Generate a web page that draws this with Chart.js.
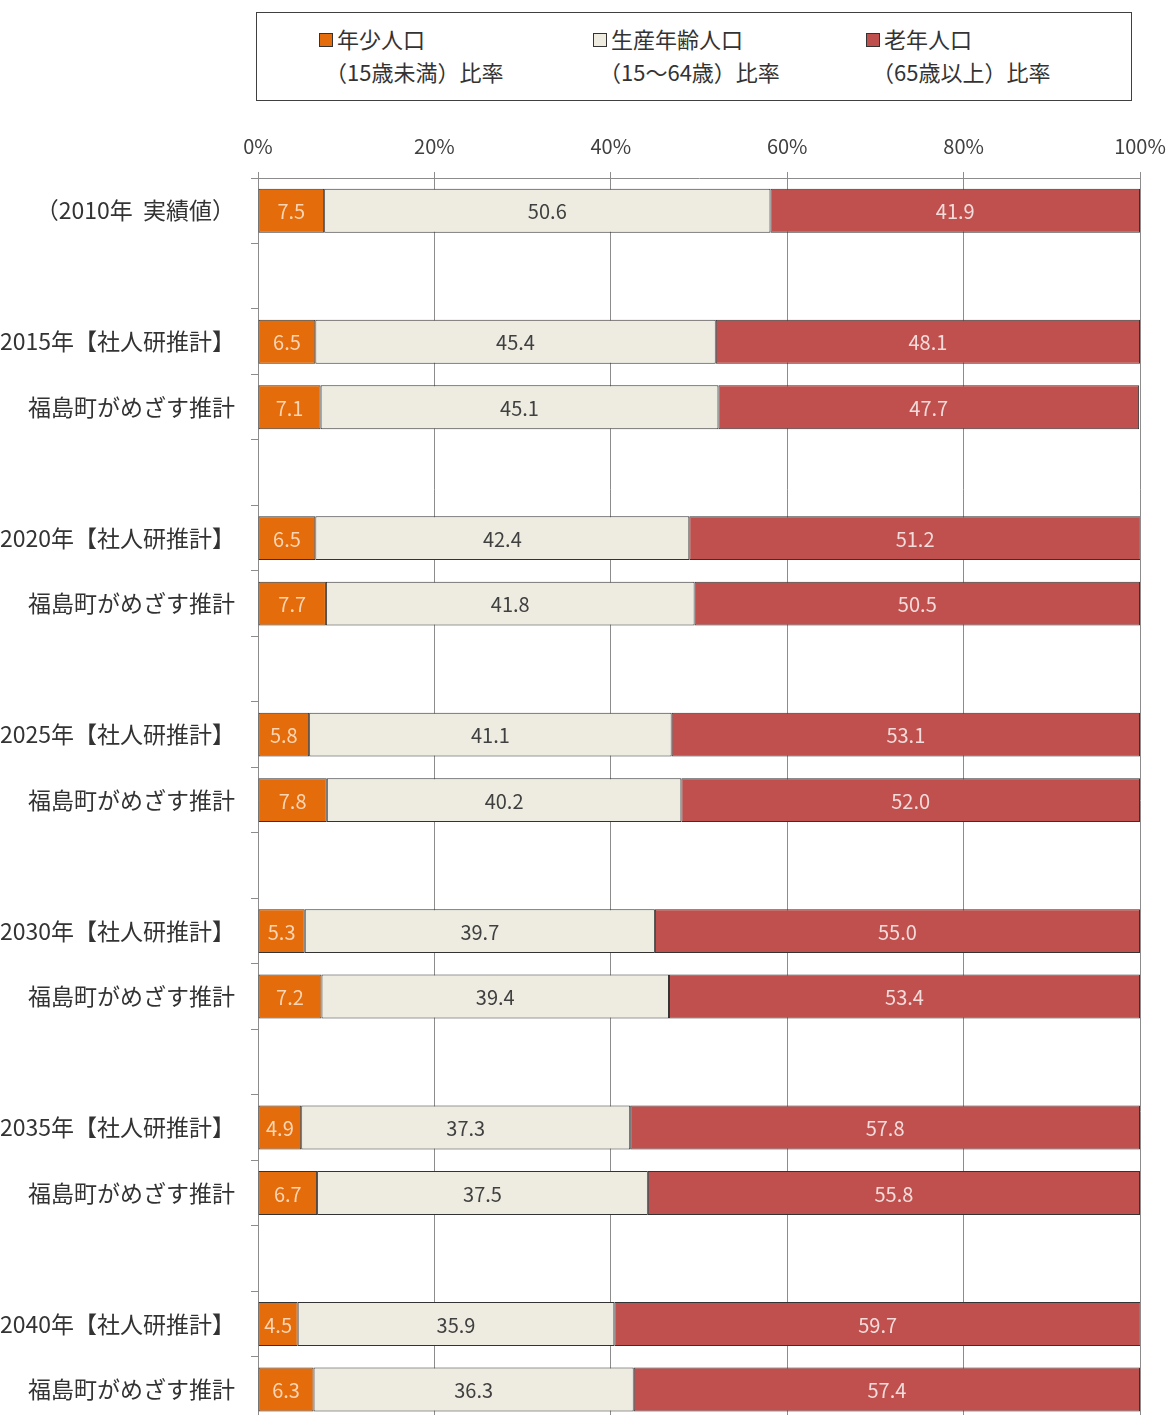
<!DOCTYPE html>
<html lang="ja">
<head>
    <meta charset="UTF-8">
    <title>年齢3区分別人口比率</title>
    <script src="https://cdn.jsdelivr.net/npm/chart.js@4.4.1/dist/chart.umd.min.js"></script>
    <style>
        body {
            margin: 0;
            width: 1170px;
            height: 1415px;
            overflow: hidden;
            background: #fff;
            font-family: 'Noto Sans CJK JP', 'Noto Sans', sans-serif;
            color: #333;
        }
        .legend {
            position: absolute;
            left: 256px;
            top: 12px;
            width: 874px;
            height: 87px;
            border: 1.5px solid #404040;
        }
        .legend .item {
            position: absolute;
            top: 9px;
            font-size: 22px;
            line-height: 33px;
            white-space: nowrap;
        }
        .legend .box {
            display: inline-block;
            width: 12px;
            height: 12px;
            border: 1px solid #333;
            margin-right: 4px;
            vertical-align: 1px;
        }
        .legend .sub {
            padding-left: 6px;
        }
        #wrap {
            position: absolute;
            left: 0;
            top: 110px;
            width: 1170px;
            height: 1342px;
        }
    </style>
</head>
<body>
<div class="legend" id="legend"></div>
<div id="wrap"><canvas id="chart"></canvas></div>

<script>
    const categories = [
        '（2010年  実績値）', '',
        '2015年【社人研推計】', '福島町がめざす推計', '',
        '2020年【社人研推計】', '福島町がめざす推計', '',
        '2025年【社人研推計】', '福島町がめざす推計', '',
        '2030年【社人研推計】', '福島町がめざす推計', '',
        '2035年【社人研推計】', '福島町がめざす推計', '',
        '2040年【社人研推計】', '福島町がめざす推計'
    ];
    const young = [7.5, null, 6.5, 7.1, null, 6.5, 7.7, null, 5.8, 7.8, null, 5.3, 7.2, null, 4.9, 6.7, null, 4.5, 6.3];
    const working = [50.6, null, 45.4, 45.1, null, 42.4, 41.8, null, 41.1, 40.2, null, 39.7, 39.4, null, 37.3, 37.5, null, 35.9, 36.3];
    const elderly = [41.9, null, 48.1, 47.7, null, 51.2, 50.5, null, 53.1, 52.0, null, 55.0, 53.4, null, 57.8, 55.8, null, 59.7, 57.4];
    const seriesNames = [
        ['年少人口', '（15歳未満）比率'],
        ['生産年齢人口', '（15～64歳）比率'],
        ['老年人口', '（65歳以上）比率']
    ];

    const fills = ['#E46C0A', '#EEECE1', '#C0504D'];
    const labelColors = ['#FCD5B4', '#404040', '#F2DCDB'];

    // legend (two-line labels, Excel style)
    const legendX = [62, 336, 609];
    const legend = document.getElementById('legend');
    seriesNames.forEach((name, i) => {
        const el = document.createElement('div');
        el.className = 'item';
        el.style.left = legendX[i] + 'px';
        el.innerHTML = `<div><span class="box" style="background:${fills[i]}"></span>${name[0]}</div>` +
            `<div class="sub">${name[1]}</div>`;
        legend.appendChild(el);
    });

    const barLabels = {
        id: 'barLabels',
        afterDatasetsDraw(chart) {
            const ctx = chart.ctx;
            ctx.save();
            ctx.font = '20px "Noto Sans CJK JP", sans-serif';
            ctx.textAlign = 'center';
            ctx.textBaseline = 'middle';
            chart.data.datasets.forEach((ds, di) => {
                const meta = chart.getDatasetMeta(di);
                meta.data.forEach((bar, i) => {
                    const v = ds.data[i];
                    if (v === null) return;
                    const p = bar.getCenterPoint();
                    ctx.fillStyle = labelColors[di];
                    ctx.fillText(v.toFixed(1), p.x, p.y + 1);
                });
            });
            ctx.restore();
        }
    };

    const ctx = document.getElementById('chart').getContext('2d');
    new Chart(ctx, {
        type: 'bar',
        data: {
            labels: categories,
            datasets: [young, working, elderly].map((d, i) => ({
                label: seriesNames[i].join(''),
                data: d,
                backgroundColor: fills[i],
                borderColor: '#333',
                borderWidth: 1,
                borderSkipped: false,
                categoryPercentage: 1,
                barPercentage: 0.67
            }))
        },
        options: {
            indexAxis: 'y',
            responsive: true,
            maintainAspectRatio: false,
            animation: false,
            layout: { padding: { left: 0, right: 30, top: 0, bottom: 0 } },
            plugins: {
                legend: { display: false },
                tooltip: { enabled: false }
            },
            scales: {
                x: {
                    position: 'top',
                    stacked: true,
                    min: 0,
                    max: 100,
                    afterFit(scale) {
                        scale.height = 68;
                        scale.paddingRight = 0;
                    },
                    ticks: {
                        stepSize: 20,
                        padding: 14,
                        color: '#404040',
                        font: { size: 20, family: '"Noto Sans CJK JP", sans-serif' },
                        callback: v => v + '%'
                    },
                    grid: {
                        color: '#8c8c8c',
                        lineWidth: 1,
                        tickLength: 6
                    },
                    border: { color: '#8c8c8c' }
                },
                y: {
                    stacked: true,
                    afterFit(scale) { scale.width = 258; },
                    ticks: {
                        padding: 16,
                        color: '#333',
                        font: { size: 23, family: '"Noto Sans CJK JP", sans-serif' },
                        autoSkip: false
                    },
                    grid: {
                        offset: true,
                        drawOnChartArea: false,
                        color: '#8c8c8c',
                        tickLength: 7
                    },
                    border: { color: '#8c8c8c' }
                }
            }
        },
        plugins: [barLabels]
    });
</script>
</body>
</html>
